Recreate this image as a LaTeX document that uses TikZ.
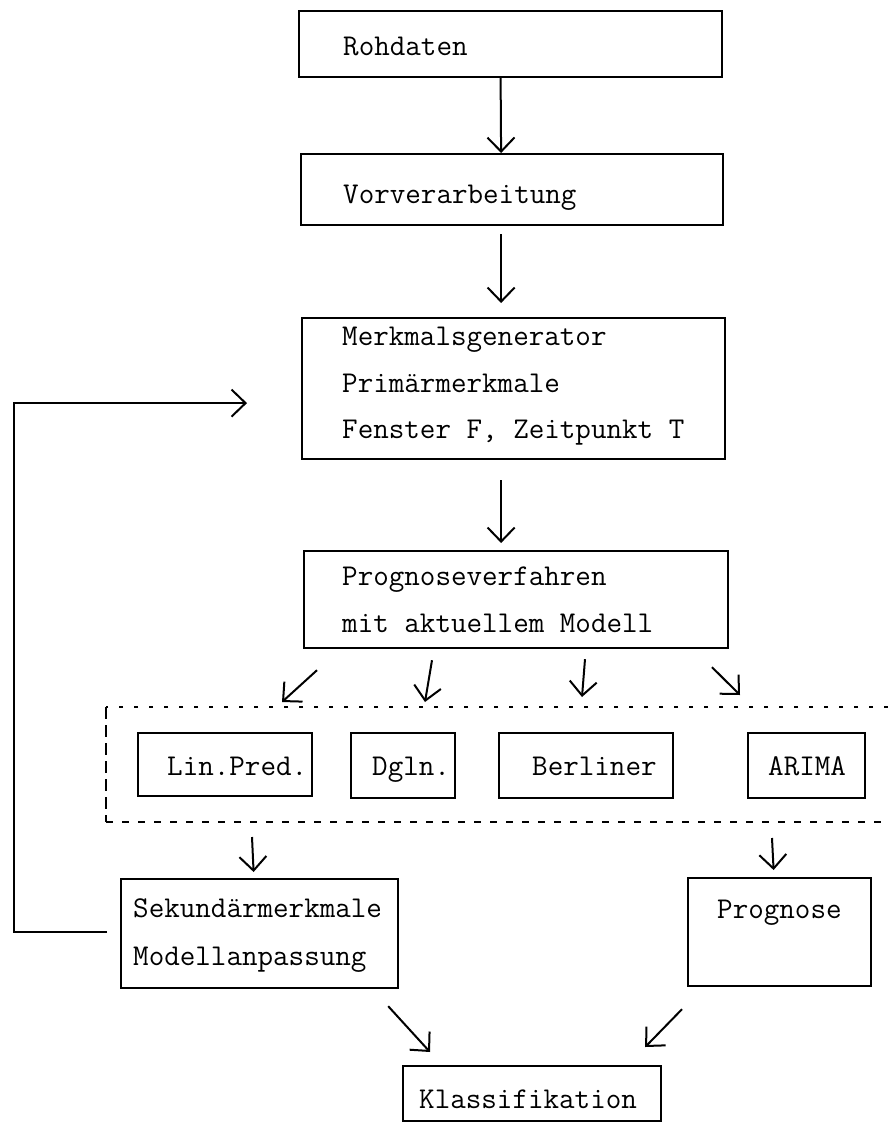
\documentclass[tikz,border=0pt]{standalone}
\usepackage{fontspec}
\usetikzlibrary{arrows.meta,calc}
\tikzset{
  box/.style={draw, line width=2.2pt, inner sep=0pt, anchor=north west},
  txt/.style={inner sep=0pt, anchor=base west, font=\fontsize{30.2pt}{48pt}\selectfont\ttfamily},
  arr/.style={line width=2pt, -{Straight Barb[length=14pt,width=27pt,line width=2pt]}},
  grptop/.style={line width=1.8pt, dash pattern=on 4pt off 11pt},
  grpleft/.style={line width=1.8pt, dash pattern=on 12pt off 6pt},
  grpbot/.style={line width=1.8pt, dash pattern=on 7pt off 9pt},
}
\begin{document}
\begin{tikzpicture}[x=1pt,y=-1pt]
\useasboundingbox (0,0) rectangle (888,1122);
% main chain
\node[box, minimum width=423pt, minimum height=66pt] (roh) at (298,10) {};
\node[txt] (roh-t) at (343,55) {Rohdaten};
\node[box, minimum width=422pt, minimum height=71pt] (vor) at (300,153) {};
\node[txt] (vor-t) at (343,203) {Vorverarbeitung};
\node[box, minimum width=423pt, minimum height=141pt] (mg) at (301,317) {};
\node[txt] (mg-1) at (342,345) {Merkmalsgenerator};
\node[txt] (mg-2) at (342,392) {Primärmerkmale};
\node[txt] (mg-3) at (342,438) {Fenster F, Zeitpunkt T};
\node[box, minimum width=424pt, minimum height=97pt] (pv) at (303,550) {};
\node[txt] (pv-1) at (342,585) {Prognoseverfahren};
\node[txt] (pv-2) at (342,632) {mit aktuellem Modell};
% dashed group
\node[minimum width=782pt, minimum height=115pt, inner sep=0pt, outer sep=0pt, anchor=north west] (grp) at (106,707) {};
\draw[grptop] (grp.north east) -- (grp.north west);
\draw[grpleft] (grp.north west) -- (grp.south west);
\draw[grpbot] (grp.south west) -- (grp.south east);
\node[box, minimum width=174pt, minimum height=63pt] (lp) at (137,732) {};
\node[txt] (lp-t) at (167,775) {Lin.Pred.};
\node[box, minimum width=104pt, minimum height=65pt] (dg) at (350,732) {};
\node[txt] (dg-t) at (372,775) {Dgln.};
\node[box, minimum width=174pt, minimum height=65pt] (be) at (498,732) {};
\node[txt] (be-t) at (532,775) {Berliner};
\node[box, minimum width=117pt, minimum height=65pt] (ar) at (747,732) {};
\node[txt] (ar-t) at (768,775) {ARIMA};
% lower boxes
\node[box, minimum width=277pt, minimum height=109pt] (sek) at (120,878) {};
\node[txt] (sek-1) at (133,917) {Sekundärmerkmale};
\node[txt] (sek-2) at (133,965) {Modellanpassung};
\node[box, minimum width=183pt, minimum height=108pt] (prog) at (687,877) {};
\node[txt] (prog-t) at (717,918) {Prognose};
\node[box, minimum width=258pt, minimum height=55pt] (kl) at (402,1065) {};
\node[txt] (kl-t) at (419,1108) {Klassifikation};
% connectors
\draw[arr] ([xshift=-10pt]roh.south) -- ([xshift=-11pt]vor.north);
\draw[arr, shorten <=8pt, shorten >=14pt] ([xshift=-11pt]vor.south) -- ([xshift=-12.5pt]mg.north);
\draw[arr, shorten <=20pt, shorten >=7pt] ([xshift=-12.5pt]mg.south) -- ([xshift=-15pt]pv.north);
\draw[arr] ($(pv.south west)+(14,21)$) -- ($(grp.north west)+(176,-5)$);
\draw[arr] ($(pv.south west)+(129,11)$) -- ($(grp.north west)+(319,-5)$);
\draw[arr] ($(pv.south west)+(282,10)$) -- ($(grp.north west)+(476,-10)$);
\draw[arr] ($(pv.south west)+(409,18)$) -- ($(grp.north west)+(634,-12)$);
\draw[arr] ($(grp.south west)+(146,15)$) -- ($(sek.north)+(-6,-6)$);
\draw[arr] ($(grp.south west)+(666,16)$) -- ($(prog.north)+(-6,-7)$);
\draw[arr] ($(sek.south east)+(-11,17)$) -- ($(kl.north west)+(28,-13)$);
\draw[arr] ($(prog.south west)+(-5,22)$) -- ($(kl.north east)+(-17,-18)$);
% feedback loop
\coordinate (fb) at ($(mg.west)+(-54,14.5)$);
\draw[arr] ($(sek.west)+(-13,-2)$) -| ($(fb)+(-233,0)$) -- (fb);
\end{tikzpicture}
\end{document}
